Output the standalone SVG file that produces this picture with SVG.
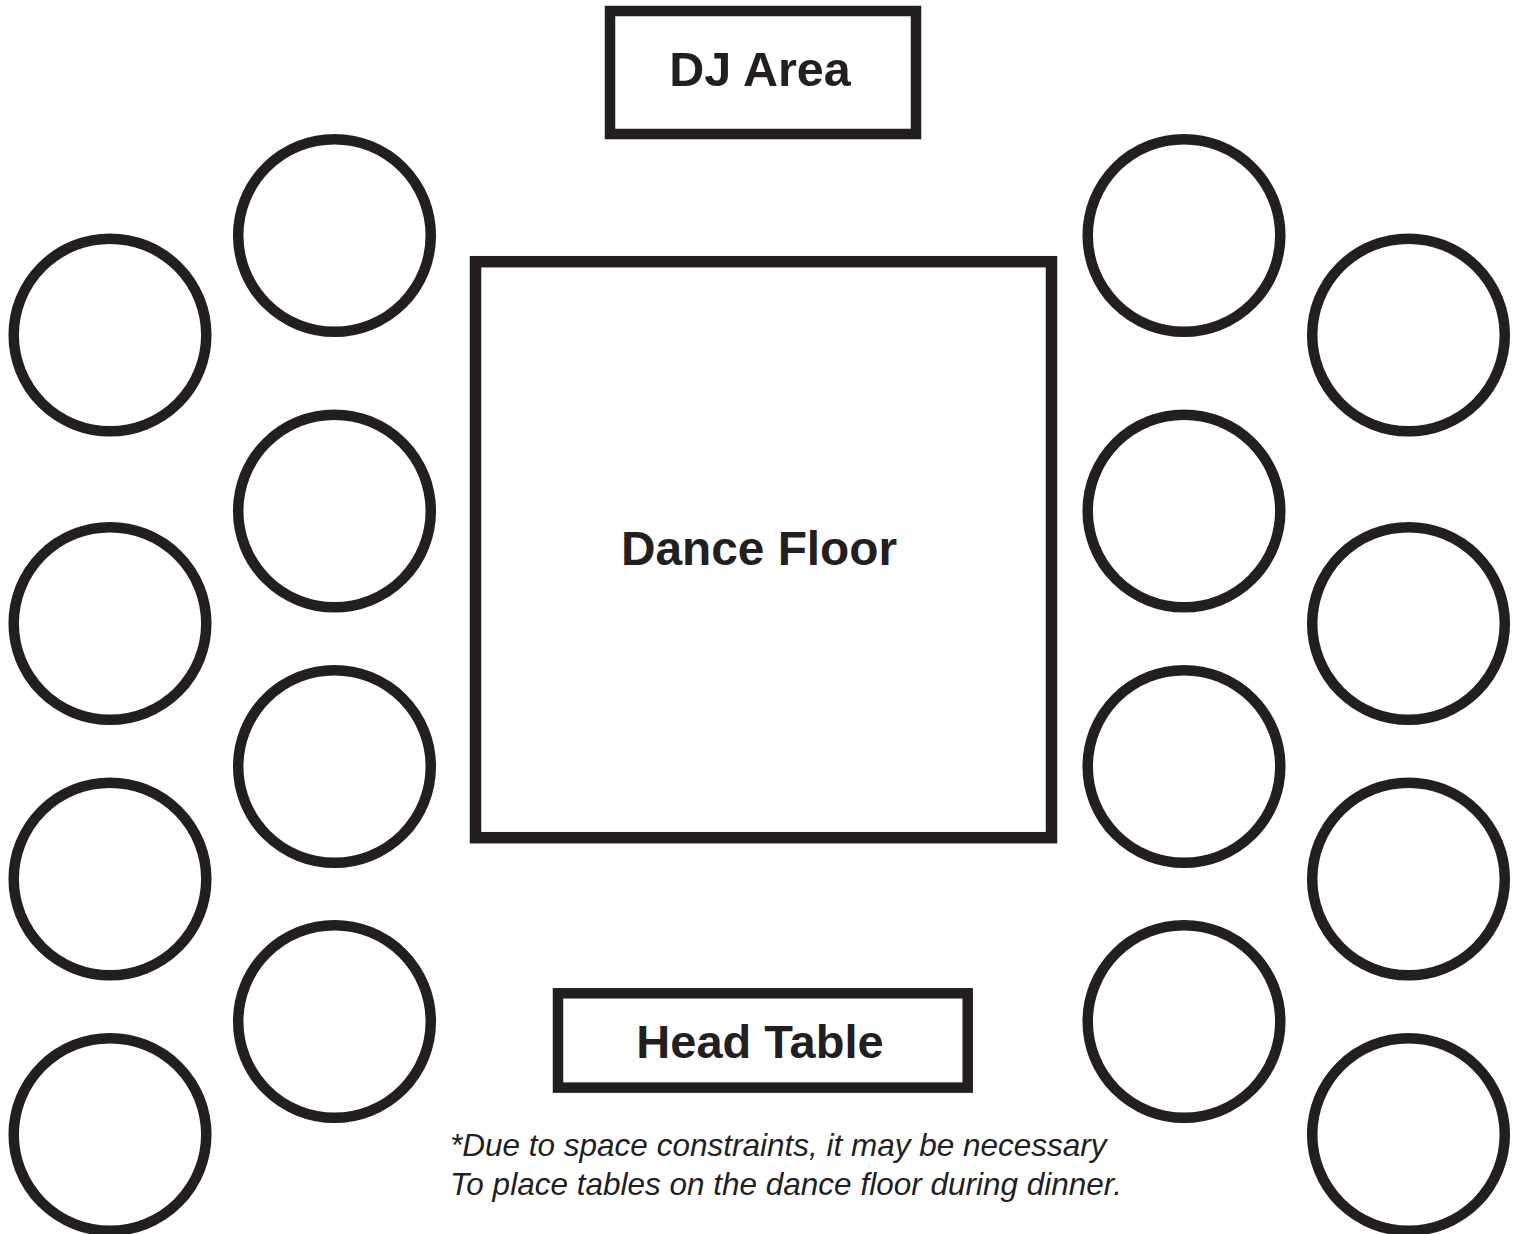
<svg xmlns="http://www.w3.org/2000/svg" width="1520" height="1234" viewBox="0 0 1520 1234">
<style>
.box{fill:#ffffff;stroke:#231f20;stroke-width:10.5}
.tbl{fill:#ffffff;stroke:#231f20;stroke-width:10.5}
.lbl{font-family:"Liberation Sans",Arial,Helvetica,sans-serif;font-weight:bold;font-size:47.5px;fill:#231f20;text-anchor:middle}
.note{font-family:"Liberation Sans",Arial,Helvetica,sans-serif;font-style:italic;font-size:31.5px;fill:#231f20}
</style>
<rect x="0" y="0" width="1520" height="1234" fill="#ffffff"/>
<g id="dj-area">
<rect class="box" x="610" y="11" width="306" height="123"/>
<text class="lbl" x="760" y="86" style="font-size:48.5px">DJ Area</text>
</g>
<g id="dance-floor">
<rect class="box" x="475.5" y="261.7" width="576" height="576" style="stroke-width:11.5"/>
<text class="lbl" x="759" y="565" style="font-size:47.8px">Dance Floor</text>
</g>
<g id="head-table">
<rect class="box" x="558" y="993.3" width="409.7" height="94.3"/>
<text class="lbl" x="760" y="1058" style="font-size:47px">Head Table</text>
</g>
<g id="table-l1"><circle class="tbl" cx="110" cy="335" r="96.3"/></g>
<g id="table-l2"><circle class="tbl" cx="110" cy="623.5" r="96.3"/></g>
<g id="table-l3"><circle class="tbl" cx="110" cy="879" r="96.3"/></g>
<g id="table-l4"><circle class="tbl" cx="110" cy="1134.5" r="96.3"/></g>
<g id="table-l5"><circle class="tbl" cx="334.5" cy="235.5" r="96.3"/></g>
<g id="table-l6"><circle class="tbl" cx="334.5" cy="511" r="96.3"/></g>
<g id="table-l7"><circle class="tbl" cx="334.5" cy="766.5" r="96.3"/></g>
<g id="table-l8"><circle class="tbl" cx="334.5" cy="1021.5" r="96.3"/></g>
<g id="table-r1"><circle class="tbl" cx="1184" cy="235.5" r="96.3"/></g>
<g id="table-r2"><circle class="tbl" cx="1184" cy="511" r="96.3"/></g>
<g id="table-r3"><circle class="tbl" cx="1184" cy="766.5" r="96.3"/></g>
<g id="table-r4"><circle class="tbl" cx="1184" cy="1021.5" r="96.3"/></g>
<g id="table-r5"><circle class="tbl" cx="1408.5" cy="335" r="96.3"/></g>
<g id="table-r6"><circle class="tbl" cx="1408.5" cy="623.5" r="96.3"/></g>
<g id="table-r7"><circle class="tbl" cx="1408.5" cy="879" r="96.3"/></g>
<g id="table-r8"><circle class="tbl" cx="1408.5" cy="1134.5" r="96.3"/></g>
<g id="connectors"></g>
<g id="footnote">
<text class="note" x="450" y="1156">*Due to space constraints, it may be necessary</text>
<text class="note" x="450" y="1195">To place tables on the dance floor during dinner.</text>
</g>
</svg>
